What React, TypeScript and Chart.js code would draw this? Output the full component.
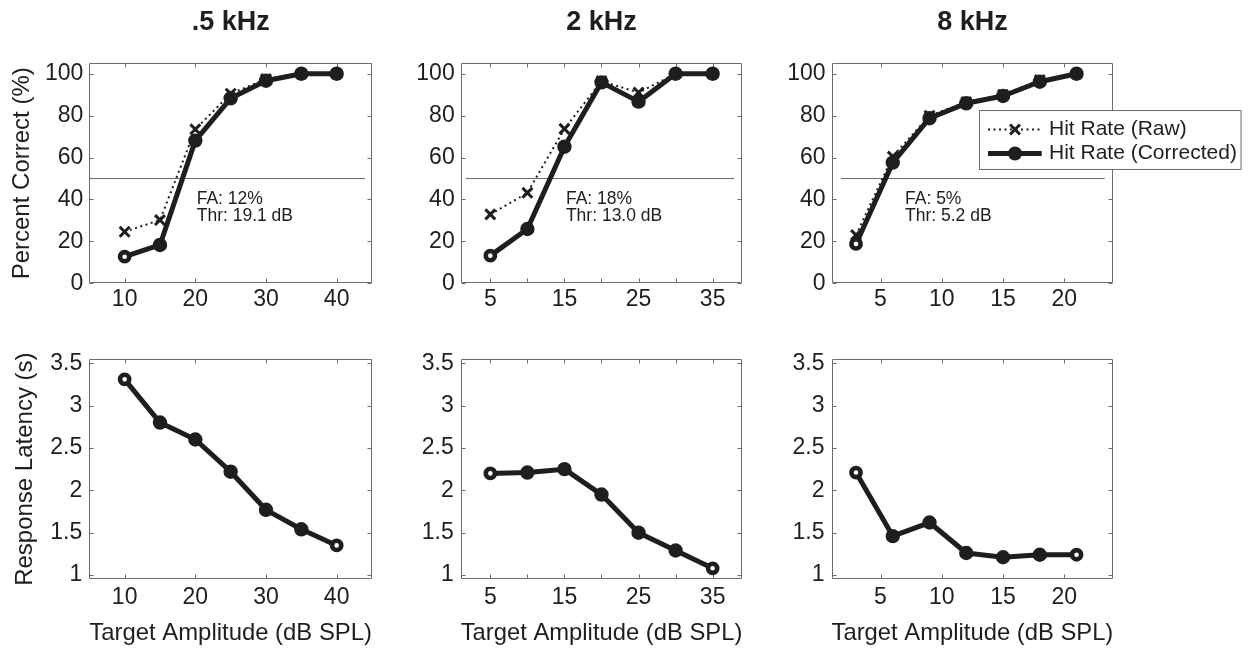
import React, { useEffect, useRef } from 'react';
import { Chart, registerables } from 'chart.js';

Chart.register(...registerables);

// ---------------- data ----------------
const panelTitles = ['.5 kHz', '2 kHz', '8 kHz'];

const amp500 = [10, 15, 20, 25, 30, 35, 40];
const amp2k = [5, 10, 15, 20, 25, 30, 35];
const amp8k = [3, 6, 9, 12, 15, 18, 21];

const rawHit500 = [24.6, 30.2, 73.5, 90.5, 97.5, 100, 100];
const corrHit500 = [12.7, 18.3, 68.1, 88.3, 96.7, 100, 100];
const rawHit2k = [32.9, 43.2, 73.7, 96.5, 91, 100, 100];
const corrHit2k = [13.2, 25.9, 65.2, 95.9, 86.7, 100, 100];
const rawHit8k = [23, 60.5, 80, 86.5, 90, 97, 100];
const corrHit8k = [18.8, 57.6, 78.8, 85.9, 89.4, 96.2, 100];

const latency500 = [3.31, 2.8, 2.6, 2.22, 1.77, 1.54, 1.35];
const latency2k = [2.2, 2.21, 2.25, 1.95, 1.5, 1.29, 1.08];
const latency8k = [2.21, 1.46, 1.62, 1.26, 1.21, 1.24, 1.24];

const falseAlarmText = ['FA: 12%', 'FA: 18%', 'FA: 5%'];
const thresholdText = ['Thr: 19.1 dB', 'Thr: 13.0 dB', 'Thr: 5.2 dB'];
const annotationX = [20.2, 15.2, 7.0];
const annotationY = [40.3, 31.9];

const chanceLevel = 50;
const chanceLineX = [
  [5, 44],
  [1.67, 37.9],
  [1.77, 23.3],
];

const xRanges = [
  [5, 45],
  [1, 39],
  [1, 24],
];
const xTickMarks = [
  [10, 20, 30, 40],
  [5, 10, 15, 20, 25, 30, 35],
  [5, 10, 15, 20],
];
const xTickLabels = [
  [10, 20, 30, 40],
  [5, 15, 25, 35],
  [5, 10, 15, 20],
];
const hitTicks = [0, 20, 40, 60, 80, 100];
const hitRange = [0, 105];
const latencyTicks = [1, 1.5, 2, 2.5, 3, 3.5];
const latencyRange = [0.95, 3.55];

const legendLabels = ['Hit Rate (Raw)', 'Hit Rate (Corrected)'];
const yTitles = ['Percent Correct (%)', 'Response Latency (s)'];
const xTitle = 'Target Amplitude (dB SPL)';

const AMPS = [amp500, amp2k, amp8k];
const RAW = [rawHit500, rawHit2k, rawHit8k];
const CORR = [corrHit500, corrHit2k, corrHit8k];
const LAT = [latency500, latency2k, latency8k];

// ---------------- styling / layout ----------------
const FONT = '"Liberation Sans", Arial, Helvetica, sans-serif';
const INK = '#1e1e1e';
const FRAME = '#6c6c6c';

const COLS = [
  { cx: 0, cw: 410, l: 89.3, r: 372 },
  { cx: 410, cw: 370, l: 460.7, r: 742.3 },
  { cx: 780, cw: 474, l: 831.5, r: 1113.3 },
];
const ROWS: any = {
  hit: { cy: 0, ch: 320, t: 63.3, b: 283.3, xPad: 2.2, yPad: 6, yTitlePad: 8 },
  lat: { cy: 320, ch: 329, t: 359, b: 579.3, xPad: 4.4, yPad: 7, yTitlePad: 10.5 },
};

function markerArrays(n: number, rings: number[]) {
  const idx = Array.from({ length: n }, (_, i) => i);
  return {
    pointRadius: idx.map((i) => (rings.includes(i) ? 4.6 : 5.7)),
    pointBorderWidth: idx.map((i) => (rings.includes(i) ? 4.6 : 3)),
    pointBackgroundColor: idx.map((i) => (rings.includes(i) ? '#ffffff' : INK)),
    pointHoverRadius: idx.map((i) => (rings.includes(i) ? 4.6 : 5.7)),
  };
}

function makePlugin(col: number, row: string) {
  return {
    id: 'matlabFrame',
    beforeDatasetsDraw(chart: any) {
      const { ctx, chartArea: a, scales } = chart;
      const L = Math.round(a.left) + 0.5;
      const T = Math.round(a.top) + 0.5;
      const Rr = Math.round(a.right) - 0.5;
      const B = Math.round(a.bottom) - 0.5;
      ctx.save();
      ctx.strokeStyle = FRAME;
      ctx.lineWidth = 1;
      ctx.beginPath();
      ctx.rect(L, T, Rr - L, B - T);
      const tl = 4;
      scales.x.ticks.forEach((t: any) => {
        const px = Math.round(scales.x.getPixelForValue(t.value)) + 0.5;
        ctx.moveTo(px, B);
        ctx.lineTo(px, B - tl);
        ctx.moveTo(px, T);
        ctx.lineTo(px, T + tl);
      });
      scales.y.ticks.forEach((t: any) => {
        const py = Math.round(scales.y.getPixelForValue(t.value)) + 0.5;
        ctx.moveTo(L, py);
        ctx.lineTo(L + tl, py);
        ctx.moveTo(Rr, py);
        ctx.lineTo(Rr - tl, py);
      });
      ctx.stroke();
      if (row === 'hit') {
        ctx.fillStyle = INK;
        ctx.font = `17.5px ${FONT}`;
        ctx.textAlign = 'left';
        ctx.textBaseline = 'middle';
        const x = scales.x.getPixelForValue(annotationX[col]);
        ctx.fillText(falseAlarmText[col], x, scales.y.getPixelForValue(annotationY[0]));
        ctx.fillText(thresholdText[col], x, scales.y.getPixelForValue(annotationY[1]));
      }
      ctx.restore();
    },
    afterDraw(chart: any) {
      if (!(row === 'hit' && col === 2)) return;
      const { ctx } = chart;
      // legend (canvas coords of panel 3)
      const bx = 199.5, by = 110.5, bw = 261.5, bh = 59;
      ctx.save();
      ctx.fillStyle = '#ffffff';
      ctx.fillRect(bx, by, bw, bh);
      ctx.strokeStyle = FRAME;
      ctx.lineWidth = 1;
      ctx.strokeRect(bx, by, bw, bh);
      const x0 = 208, x1 = 261.7, xm = 235;
      const y1 = 129.5, y2 = 153.5;
      // raw sample
      ctx.strokeStyle = INK;
      ctx.lineWidth = 2;
      ctx.setLineDash([2, 3.5]);
      ctx.beginPath();
      ctx.moveTo(x0, y1);
      ctx.lineTo(x1, y1);
      ctx.stroke();
      ctx.setLineDash([]);
      ctx.lineWidth = 3;
      const d = 7 * Math.SQRT1_2;
      ctx.beginPath();
      ctx.moveTo(xm - d, y1 - d);
      ctx.lineTo(xm + d, y1 + d);
      ctx.moveTo(xm - d, y1 + d);
      ctx.lineTo(xm + d, y1 - d);
      ctx.stroke();
      // corrected sample
      ctx.lineWidth = 5;
      ctx.beginPath();
      ctx.moveTo(x0, y2);
      ctx.lineTo(x1, y2);
      ctx.stroke();
      ctx.fillStyle = INK;
      ctx.beginPath();
      ctx.arc(xm, y2, 7, 0, Math.PI * 2);
      ctx.fill();
      // labels
      ctx.font = `21px ${FONT}`;
      ctx.textAlign = 'left';
      ctx.textBaseline = 'middle';
      ctx.fillText(legendLabels[0], 269, y1);
      ctx.fillText(legendLabels[1], 269, y2);
      ctx.restore();
    },
  };
}

function makeConfig(col: number, row: string): any {
  const C = COLS[col];
  const R = ROWS[row];
  const xs = AMPS[col];
  const datasets: any[] = [];
  if (row === 'hit') {
    datasets.push({
      label: legendLabels[1],
      data: xs.map((x, i) => ({ x, y: CORR[col][i] })),
      borderColor: INK,
      borderWidth: 5,
      borderJoinStyle: 'round',
      pointStyle: 'circle',
      pointBorderColor: INK,
      ...markerArrays(xs.length, [0]),
      tension: 0,
    });
    datasets.push({
      label: legendLabels[0],
      data: xs.map((x, i) => ({ x, y: RAW[col][i] })),
      borderColor: INK,
      borderWidth: 2,
      borderDash: [2, 3.5],
      pointStyle: 'crossRot',
      pointRadius: 7,
      pointHoverRadius: 7,
      pointBorderWidth: 3,
      pointBorderColor: INK,
      pointBackgroundColor: INK,
      tension: 0,
    });
    datasets.push({
      label: 'chance',
      data: chanceLineX[col].map((x) => ({ x, y: chanceLevel })),
      borderColor: '#6a6a6a',
      borderWidth: 1,
      pointRadius: 0,
      pointHoverRadius: 0,
    });
  } else {
    datasets.push({
      label: 'latency',
      data: xs.map((x, i) => ({ x, y: LAT[col][i] })),
      borderColor: INK,
      borderWidth: 5,
      borderJoinStyle: 'round',
      pointStyle: 'circle',
      pointBorderColor: INK,
      ...markerArrays(xs.length, [0, xs.length - 1]),
      tension: 0,
    });
  }
  const titleSize = 27;
  const titleLine = titleSize * 1.2;
  const titleTop = 22.3 - titleLine / 2;
  const yr = row === 'hit' ? hitRange : latencyRange;
  const yt = row === 'hit' ? hitTicks : latencyTicks;
  return {
    type: 'line',
    data: { datasets },
    options: {
      responsive: false,
      animation: false,
      events: [],
      layout: {
        padding: {
          left: 0,
          right: C.cx + C.cw - C.r,
          top: row === 'hit' ? 0 : R.t - R.cy,
          bottom: 0,
        },
      },
      plugins: {
        legend: { display: false },
        tooltip: { enabled: false },
        title:
          row === 'hit'
            ? {
                display: true,
                text: panelTitles[col],
                color: INK,
                fullSize: false,
                font: { family: FONT, size: titleSize, weight: 'bold', lineHeight: 1.2 },
                padding: { top: titleTop, bottom: R.t - R.cy - titleTop - titleLine },
              }
            : { display: false },
      },
      scales: {
        x: {
          type: 'linear',
          min: xRanges[col][0],
          max: xRanges[col][1],
          grid: { display: false, drawTicks: false },
          border: { display: false },
          afterBuildTicks: (s: any) => {
            s.ticks = xTickMarks[col].map((v) => ({ value: v }));
          },
          afterFit: (s: any) => {
            s.height = R.cy + R.ch - R.b;
          },
          ticks: {
            autoSkip: false,
            maxRotation: 0,
            color: INK,
            padding: R.xPad,
            font: { family: FONT, size: 23, lineHeight: 1.2 },
            callback: (v: any) => (xTickLabels[col].includes(Number(v)) ? String(v) : ''),
          },
          title:
            row === 'lat'
              ? {
                  display: true,
                  text: xTitle,
                  color: INK,
                  font: { family: FONT, size: 24, lineHeight: 1.2 },
                  padding: { top: 0, bottom: 1.3 },
                }
              : { display: false },
        },
        y: {
          type: 'linear',
          min: yr[0],
          max: yr[1],
          grid: { display: false, drawTicks: false },
          border: { display: false },
          afterBuildTicks: (s: any) => {
            s.ticks = yt.map((v) => ({ value: v }));
          },
          afterFit: (s: any) => {
            s.width = C.l - C.cx;
          },
          ticks: {
            autoSkip: false,
            color: INK,
            padding: R.yPad,
            font: { family: FONT, size: 23, lineHeight: 1.2 },
            callback: (v: any) => String(v),
          },
          title:
            col === 0
              ? {
                  display: true,
                  text: row === 'hit' ? yTitles[0] : yTitles[1],
                  color: INK,
                  font: { family: FONT, size: 24, lineHeight: 1.2 },
                  padding: { top: R.yTitlePad, bottom: 0 },
                }
              : { display: false },
        },
      },
    },
    plugins: [makePlugin(col, row)],
  };
}

function Panel({ col, row }: { col: number; row: string }) {
  const ref = useRef<HTMLCanvasElement>(null);
  const C = COLS[col];
  const R = ROWS[row];
  useEffect(() => {
    const chart = new Chart(ref.current as HTMLCanvasElement, makeConfig(col, row));
    return () => chart.destroy();
  }, [col, row]);
  return (
    <canvas
      ref={ref}
      width={C.cw}
      height={R.ch}
      style={{ position: 'absolute', left: C.cx, top: R.cy, width: C.cw, height: R.ch }}
    />
  );
}

export default function App() {
  return (
    <div
      style={{
        position: 'absolute',
        left: 0,
        top: 0,
        width: 1254,
        height: 649,
        background: '#ffffff',
        overflow: 'hidden',
      }}
    >
      {[0, 1, 2].map((c) => (
        <Panel key={'h' + c} col={c} row="hit" />
      ))}
      {[0, 1, 2].map((c) => (
        <Panel key={'l' + c} col={c} row="lat" />
      ))}
    </div>
  );
}
